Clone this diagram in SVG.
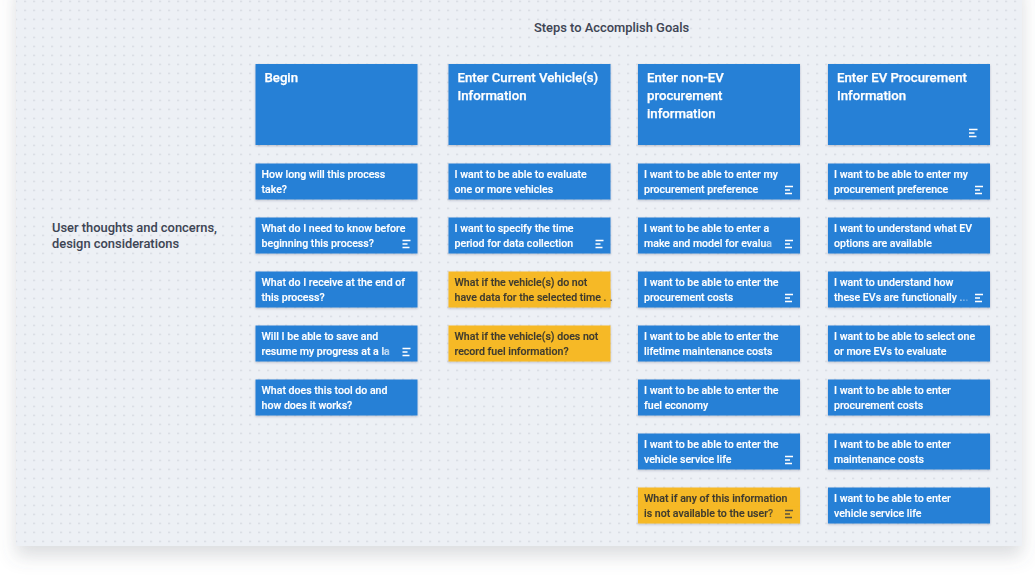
<svg xmlns="http://www.w3.org/2000/svg" width="1035" height="579" viewBox="0 0 1035 579">
<defs>
<style>
.bg{fill:#ffffff}
.panel{fill:#edf0f5}
.cb{fill:#2880d6}
.cy{fill:#f6b925}
.t{font-family:Roboto,"Liberation Sans",sans-serif;font-weight:500;font-size:10.6px;fill:#ffffff;stroke:#ffffff;stroke-width:0.15}
.ty{fill:#3d3a30;stroke:#3d3a30}
.h{font-family:Roboto,"Liberation Sans",sans-serif;font-weight:500;font-size:13.2px;fill:#ffffff;stroke:#ffffff;stroke-width:0.25}
.lbl{font-family:Roboto,"Liberation Sans",sans-serif;font-weight:500;font-size:12.9px;fill:#3e4554;stroke:#3e4554;stroke-width:0.05}
.ic{stroke:#ffffff;stroke-width:1.3;fill:none}
.icy{stroke:#5a5340;stroke-width:1.3;fill:none}
.card{filter:url(#sh)}
</style>
<pattern id="dots" patternUnits="userSpaceOnUse" x="24.4" y="0.7" width="9" height="9">
<rect x="0" y="0" width="1.3" height="1.3" fill="#c6cad2"/>
</pattern>
<filter id="sh" x="-10%" y="-20%" width="120%" height="150%">
<feDropShadow dx="0" dy="1" stdDeviation="1" flood-color="#1a2740" flood-opacity="0.25"/>
</filter>
<filter id="psh" x="-10%" y="-10%" width="120%" height="130%">
<feDropShadow dx="0" dy="10" stdDeviation="9" flood-color="#5a6070" flood-opacity="0.22"/>
</filter>
<linearGradient id="fb" x1="0" y1="0" x2="1" y2="0">
<stop offset="0" stop-color="#2880d6" stop-opacity="0"/>
<stop offset="1" stop-color="#2880d6" stop-opacity="1"/>
</linearGradient>
<linearGradient id="fy" x1="0" y1="0" x2="1" y2="0">
<stop offset="0" stop-color="#f6b925" stop-opacity="0"/>
<stop offset="1" stop-color="#f6b925" stop-opacity="1"/>
</linearGradient>
</defs>
<rect class="bg" x="0" y="0" width="1035" height="579"/>
<rect class="panel" x="16" y="-20" width="1006" height="566" filter="url(#psh)"/>
<rect x="16" y="0" width="1006" height="546" fill="url(#dots)"/>

<g id="title"><text class="lbl" x="534" y="32">Steps to Accomplish Goals</text></g>
<g id="row-label"><text class="lbl" x="52" y="232"><tspan x="52">User thoughts and concerns,</tspan><tspan x="52" y="248">design considerations</tspan></text></g>

<g id="connectors"></g>

<!-- Headers -->
<g id="h1" class="card" transform="translate(255.5,64)"><rect class="cb" width="162" height="81"/><text class="h" x="9" y="18">Begin</text></g>
<g id="h2" class="card" transform="translate(448.5,64)"><rect class="cb" width="162" height="81"/><text class="h" x="9" y="18"><tspan x="9">Enter Current Vehicle(s)</tspan><tspan x="9" y="36">Information</tspan></text></g>
<g id="h3" class="card" transform="translate(638,64)"><rect class="cb" width="162" height="81"/><text class="h" x="9" y="18"><tspan x="9">Enter non-EV</tspan><tspan x="9" y="36">procurement</tspan><tspan x="9" y="54">information</tspan></text></g>
<g id="h4" class="card" transform="translate(828,64)"><rect class="cb" width="162" height="81"/><text class="h" x="9" y="18"><tspan x="9">Enter EV Procurement</tspan><tspan x="9" y="36">Information</tspan></text><path class="ic" d="M141 65.5h8.5M141 69h5.5M141 72.5h7.5"/></g>

<!-- Column 1 -->
<g id="c1r1" class="card" transform="translate(255.5,163.5)"><rect class="cb" width="162" height="36"/><text class="t" x="6" y="14"><tspan x="6">How long will this process</tspan><tspan x="6" y="29">take?</tspan></text></g>
<g id="c1r2" class="card" transform="translate(255.5,217.5)"><rect class="cb" width="162" height="36"/><text class="t" x="6" y="14"><tspan x="6">What do I need to know before</tspan><tspan x="6" y="29">beginning this process?</tspan></text><path class="ic" d="M147 23h8M147 26.5h5M147 30h7"/></g>
<g id="c1r3" class="card" transform="translate(255.5,271.5)"><rect class="cb" width="162" height="36"/><text class="t" x="6" y="14"><tspan x="6">What do I receive at the end of</tspan><tspan x="6" y="29">this process?</tspan></text></g>
<g id="c1r4" class="card" transform="translate(255.5,325.5)"><rect class="cb" width="162" height="36"/><text class="t" x="6" y="14"><tspan x="6">Will I be able to save and</tspan><tspan x="6" y="29">resume my progress at a la</tspan></text><rect x="126" y="19" width="18" height="14" fill="url(#fb)"/><path class="ic" d="M147 23h8M147 26.5h5M147 30h7"/></g>
<g id="c1r5" class="card" transform="translate(255.5,379.5)"><rect class="cb" width="162" height="36"/><text class="t" x="6" y="14"><tspan x="6">What does this tool do and</tspan><tspan x="6" y="29">how does it works?</tspan></text></g>

<!-- Column 2 -->
<g id="c2r1" class="card" transform="translate(448.5,163.5)"><rect class="cb" width="162" height="36"/><text class="t" x="6" y="14"><tspan x="6">I want to be able to evaluate</tspan><tspan x="6" y="29">one or more vehicles</tspan></text></g>
<g id="c2r2" class="card" transform="translate(448.5,217.5)"><rect class="cb" width="162" height="36"/><text class="t" x="6" y="14"><tspan x="6">I want to specify the time</tspan><tspan x="6" y="29">period for data collection</tspan></text><path class="ic" d="M147 23h8M147 26.5h5M147 30h7"/></g>
<g id="c2r3" class="card" transform="translate(448.5,271.5)"><rect class="cy" width="162" height="36"/><text class="t ty" x="6" y="14"><tspan x="6">What if the vehicle(s) do not</tspan><tspan x="6" y="29">have data for the selected time ...</tspan></text><rect x="158.5" y="19" width="3.5" height="14" fill="#f6b925"/></g>
<g id="c2r4" class="card" transform="translate(448.5,325.5)"><rect class="cy" width="162" height="36"/><text class="t ty" x="6" y="14"><tspan x="6">What if the vehicle(s) does not</tspan><tspan x="6" y="29">record fuel information?</tspan></text></g>

<!-- Column 3 -->
<g id="c3r1" class="card" transform="translate(638,163.5)"><rect class="cb" width="162" height="36"/><text class="t" x="6" y="14"><tspan x="6">I want to be able to enter my</tspan><tspan x="6" y="29">procurement preference</tspan></text><path class="ic" d="M147 23h8M147 26.5h5M147 30h7"/></g>
<g id="c3r2" class="card" transform="translate(638,217.5)"><rect class="cb" width="162" height="36"/><text class="t" x="6" y="14"><tspan x="6">I want to be able to enter a</tspan><tspan x="6" y="29">make and model for evalua</tspan></text><rect x="126" y="19" width="18" height="14" fill="url(#fb)"/><rect x="144" y="19" width="18" height="14" fill="#2880d6"/><path class="ic" d="M147 23h8M147 26.5h5M147 30h7"/></g>
<g id="c3r3" class="card" transform="translate(638,271.5)"><rect class="cb" width="162" height="36"/><text class="t" x="6" y="14"><tspan x="6">I want to be able to enter the</tspan><tspan x="6" y="29">procurement costs</tspan></text><path class="ic" d="M147 23h8M147 26.5h5M147 30h7"/></g>
<g id="c3r4" class="card" transform="translate(638,325.5)"><rect class="cb" width="162" height="36"/><text class="t" x="6" y="14"><tspan x="6">I want to be able to enter the</tspan><tspan x="6" y="29">lifetime maintenance costs</tspan></text></g>
<g id="c3r5" class="card" transform="translate(638,379.5)"><rect class="cb" width="162" height="36"/><text class="t" x="6" y="14"><tspan x="6">I want to be able to enter the</tspan><tspan x="6" y="29">fuel economy</tspan></text></g>
<g id="c3r6" class="card" transform="translate(638,433.5)"><rect class="cb" width="162" height="36"/><text class="t" x="6" y="14"><tspan x="6">I want to be able to enter the</tspan><tspan x="6" y="29">vehicle service life</tspan></text><path class="ic" d="M147 23h8M147 26.5h5M147 30h7"/></g>
<g id="c3r7" class="card" transform="translate(638,487.5)"><rect class="cy" width="162" height="36"/><text class="t ty" x="6" y="14"><tspan x="6">What if any of this information</tspan><tspan x="6" y="29">is not available to the user?</tspan></text><rect x="128" y="19" width="16" height="14" fill="url(#fy)" opacity="0.7"/><rect x="144" y="19" width="18" height="14" fill="#f6b925"/><path class="icy" d="M147 23h8M147 26.5h5M147 30h7"/></g>

<!-- Column 4 -->
<g id="c4r1" class="card" transform="translate(828,163.5)"><rect class="cb" width="162" height="36"/><text class="t" x="6" y="14"><tspan x="6">I want to be able to enter my</tspan><tspan x="6" y="29">procurement preference</tspan></text><path class="ic" d="M147 23h8M147 26.5h5M147 30h7"/></g>
<g id="c4r2" class="card" transform="translate(828,217.5)"><rect class="cb" width="162" height="36"/><text class="t" x="6" y="14"><tspan x="6">I want to understand what EV</tspan><tspan x="6" y="29">options are available</tspan></text></g>
<g id="c4r3" class="card" transform="translate(828,271.5)"><rect class="cb" width="162" height="36"/><text class="t" x="6" y="14"><tspan x="6">I want to understand how</tspan><tspan x="6" y="29">these EVs are functionally ...</tspan></text><rect x="126" y="19" width="18" height="14" fill="url(#fb)"/><rect x="144" y="19" width="18" height="14" fill="#2880d6"/><path class="ic" d="M147 23h8M147 26.5h5M147 30h7"/></g>
<g id="c4r4" class="card" transform="translate(828,325.5)"><rect class="cb" width="162" height="36"/><text class="t" x="6" y="14"><tspan x="6">I want to be able to select one</tspan><tspan x="6" y="29">or more EVs to evaluate</tspan></text></g>
<g id="c4r5" class="card" transform="translate(828,379.5)"><rect class="cb" width="162" height="36"/><text class="t" x="6" y="14"><tspan x="6">I want to be able to enter</tspan><tspan x="6" y="29">procurement costs</tspan></text></g>
<g id="c4r6" class="card" transform="translate(828,433.5)"><rect class="cb" width="162" height="36"/><text class="t" x="6" y="14"><tspan x="6">I want to be able to enter</tspan><tspan x="6" y="29">maintenance costs</tspan></text></g>
<g id="c4r7" class="card" transform="translate(828,487.5)"><rect class="cb" width="162" height="36"/><text class="t" x="6" y="14"><tspan x="6">I want to be able to enter</tspan><tspan x="6" y="29">vehicle service life</tspan></text></g>
</svg>
